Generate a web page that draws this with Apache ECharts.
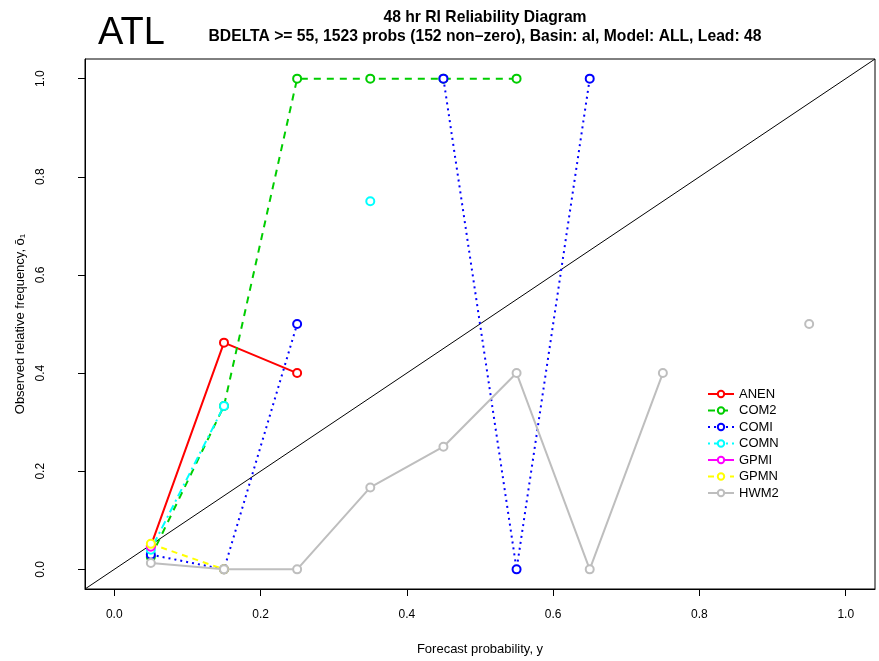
<!DOCTYPE html>
<html>
<head>
<meta charset="utf-8">
<script src="https://cdn.jsdelivr.net/npm/echarts@6/dist/echarts.min.js"></script>
<style>
html,body{margin:0;padding:0;background:#fff;}
#chart{width:879px;height:661px;}
</style>
</head>
<body>
<div id="chart"></div>
<script>
// Forecast probability bins
var probBins = [0.05, 0.15, 0.25, 0.35, 0.45, 0.55, 0.65, 0.75, 0.85, 0.95];
// Observed relative frequency per model (null = no data)
var anen = [0.048, 0.462, 0.40, null, null, null, null, null, null, null];
var com2 = [0.025, 0.333, 1.0, 1.0, 1.0, 1.0, null, null, null, null];
var comi = [0.03, 0.0, 0.5, null, 1.0, 0.0, 1.0, null, null, null];
var comn = [0.04, 0.333, null, 0.75, null, null, null, null, null, null];
var gpmi = [0.046, null, null, null, null, null, null, null, null, null];
var gpmn = [0.052, 0.0, null, null, null, null, null, null, null, null];
var hwm2 = [0.013, 0.0, 0.0, 0.167, 0.25, 0.40, 0.0, 0.40, null, 0.50];
var tickValues = [0, 0.2, 0.4, 0.6, 0.8, 1.0];
var diagonal = [-0.04, 1.04];

function pairs(vals) {
  return probBins.map(function (p, i) { return [p, vals[i] === null ? '-' : vals[i]]; });
}

var chart = echarts.init(document.getElementById('chart'), null, {renderer: 'canvas'});
var FONT = 'Liberation Sans';

function mk(name, vals, color, type, width) {
  return {
    name: name, type: 'line', data: pairs(vals), connectNulls: false,
    symbol: 'emptyCircle', symbolSize: 8, showSymbol: true,
    itemStyle: {color: color, borderColor: color, borderWidth: 2},
    lineStyle: {color: color, type: type, width: width},
    emphasis: {disabled: true}, animation: false
  };
}

var series = [
  {
    name: 'diag', type: 'line', data: [[diagonal[0], diagonal[0]], [diagonal[1], diagonal[1]]],
    symbol: 'none', lineStyle: {color: '#000', width: 1}, silent: true, animation: false
  },
  mk('ANEN', anen, '#ff0000', 'solid', 2),
  mk('COM2', com2, '#00cd00', [7, 6], 2),
  mk('COMI', comi, '#0000ff', [2, 4], 2),
  mk('COMN', comn, '#00ffff', [2, 4, 8, 4], 2),
  mk('GPMI', gpmi, '#ff00ff', 'solid', 2),
  mk('GPMN', gpmn, '#ffff00', [6, 5], 2),
  mk('HWM2', hwm2, '#bebebe', 'solid', 2)
];

function axisCommon() {
  return {
    type: 'value', min: -0.04, max: 1.04,
    axisLine: {show: true, onZero: false, lineStyle: {color: '#000', width: 1}},
    axisTick: {show: true, customValues: tickValues, length: 7, inside: false, lineStyle: {color: '#000'}},
    splitLine: {show: false},
    axisLabel: {
      customValues: tickValues, color: '#000', fontFamily: FONT, fontSize: 12,
      formatter: function (v) { return v.toFixed(1); }
    },
    nameLocation: 'middle',
    nameTextStyle: {color: '#000', fontFamily: FONT, fontSize: 13}
  };
}

var xAxis = axisCommon();
xAxis.position = 'bottom';
xAxis.name = 'Forecast probability, y';
xAxis.nameGap = 54;
xAxis.axisLabel.margin = 20;

var yAxis = axisCommon();
yAxis.position = 'left';
yAxis.name = 'Observed relative frequency, \u014D\u2081';
yAxis.nameGap = 53;
yAxis.axisLabel.rotate = 90;
yAxis.axisLabel.margin = 38;

chart.setOption({
  animation: false,
  backgroundColor: '#fff',
  grid: {left: 85, top: 59, width: 790, height: 539, show: true, borderColor: '#000', borderWidth: 1, containLabel: false},
  title: [
    {text: 'ATL', left: 93, top: 10, textStyle: {fontFamily: FONT, fontSize: 38, fontWeight: 'normal', color: '#000'}},
    {text: '48 hr RI Reliability Diagram', left: 480, top: 5, textAlign: 'center',
      textStyle: {fontFamily: FONT, fontSize: 15.7, fontWeight: 'bold', color: '#000'}},
    {text: 'BDELTA >= 55, 1523 probs (152 non\u2013zero), Basin: al, Model: ALL, Lead: 48', left: 480, top: 24, textAlign: 'center',
      textStyle: {fontFamily: FONT, fontSize: 15.7, fontWeight: 'bold', color: '#000'}}
  ],
  legend: {
    data: ['ANEN', 'COM2', 'COMI', 'COMN', 'GPMI', 'GPMN', 'HWM2'],
    orient: 'vertical', left: 702, top: 382, itemGap: 2.5, itemWidth: 26, itemHeight: 8,
    textStyle: {fontFamily: FONT, fontSize: 13, lineHeight: 14, color: '#000'},
    selectedMode: false
  },
  xAxis: xAxis,
  yAxis: yAxis,
  series: series
});
</script>
</body>
</html>
